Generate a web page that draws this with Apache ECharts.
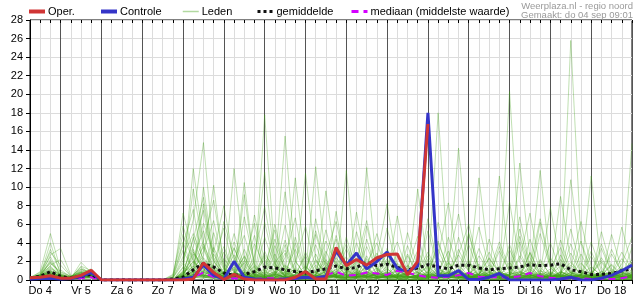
<!DOCTYPE html>
<html><head><meta charset="utf-8">
<script src="https://cdn.jsdelivr.net/npm/echarts@6/dist/echarts.min.js"></script>
<style>html,body{margin:0;padding:0;background:#fff}#c{width:635px;height:300px}</style>
</head><body><div id="c"></div>
<script>
// time axis: hours since Do 4 00:00, 6-hourly steps starting 06:00
const startHour = 6;
const stepHours = 6;
const dayLabels = ['Do 4','Vr 5','Za 6','Zo 7','Ma 8','Di 9','Wo 10','Do 11','Vr 12','Za 13','Zo 14','Ma 15','Di 16','Wo 17','Do 18'];
const yTicks = {min: 0, max: 28, interval: 2};
const sourceText = 'Weerplaza.nl - regio noord';
const madeText = 'Gemaakt: do 04 sep 09:01';

const oper = [0.25,0.3,0.45, 0.2,0.2,0.5,1.05, 0,0,0,0, 0,0,0,0, 0,0.1,1.85,0.8, 0.05,0.6,0.1,0, 0,0,0,0.3, 0.9,0.1,0.1,3.5, 1.55,2.2,1.6,2.4, 2.75,2.8,0.55,2.0, 16.8];
const controle = [0.1,0.15,0.2, 0.1,0.15,0.4,0.8, 0,0,0,0, 0,0,0,0, 0.1,0.3,1.6,0.5, 0.1,2.0,0.3,0.1, 0.05,0,0.1,0.2, 0.3,0.2,0.4,3.1, 1.6,2.9,1.2,2.0, 3.0,1.25,0.9,1.5, 18.0,0.45,0.45,1.0, 0.05,0.05,0.3,0.7, 0,0,0,0, 0,0.1,0.3,0, 0,0.2,0.5,1.0, 1.6];
const gemiddelde = [0.2,0.4,0.9, 0.4,0.2,0.4,0.6, 0,0,0.02,0, 0,0,0,0.1, 0.3,1.1,1.8,1.4, 0.75,0.5,0.6,0.9, 1.4,1.3,1.1,0.9, 0.75,1.0,1.2,1.5, 1.2,1.35,1.9,1.55, 1.7,1.35,1.1,1.3, 1.65,1.4,1.2,1.6, 1.6,1.3,1.1,1.2, 1.3,1.4,1.65,1.55, 1.6,1.75,1.1,0.9, 0.6,0.6,0.7,1.0, 1.2];
const mediaan = [0.1,0.1,0.2, 0.1,0.1,0.2,0.3, 0,0,0,0, 0,0,0,0, 0.1,0.3,0.8,0.3, 0.1,0.2,0.1,0.1, 0.2,0.2,0.1,0.1, 0.3,0.2,0.5,0.9, 0.45,0.55,0.8,0.7, 0.55,1.0,0.8,0.5, 0.3,0.25,0.35,0.5, 0.75,0.35,0.3,0.3, 0.25,0.4,0.75,0.4, 0.25,0.2,0.1,0.2, 0.1,0.1,0.1,0.2, 0.4];

const leden = [
[0.2,0.9,5.0, 1.1,0.3,0.6,0.4, 0,0,0,0, 0,0,0,0.2, 2.1,6.5,14.8,3.2, 0.4,1.2,0.6,0.2, 0,0.3,1.5,0.8, 0.2,0,0.6,2.4, 1.0,0.3,0,0.1, 0.4,1.8,0.9,0.2, 0,0.2,0.5,0.3, 0.1,0,0,0.6, 1.4,0.3,0,0.2, 0.5,2.2,0.8,0, 0,0.3,1.1,0.4, 0.2],
[0.1,0.5,4.0, 0.6,0.2,1.9,0.8, 0,0.1,0,0, 0,0,0,0, 0.5,1.2,2.6,10.2, 1.4,0.2,0,0.5, 17.8,2.3,0.4,0, 0,0.2,1.3,0.5, 0.3,0.9,3.6,1.1, 0.2,0,0.4,1.9, 0.6,0.1,0,0, 0.3,1.2,0.5,0.2, 0,0,0.8,0.3, 0.1,0.6,0.2,0, 0,0,0.4,1.3, 0.5],
[0.3,0.4,3.3, 0.8,0.4,0.9,0.6, 0,0,0,0, 0,0,0,0, 7.2,3.0,1.1,0.4, 0,0.8,2.5,0.6, 0.2,0,0,0.3, 1.1,3.8,0.9,0.2, 0,0.4,0.7,2.2, 0.6,0.2,0.1,0, 0.4,18.0,1.5,0.3, 0.1,0,0.2,0.9, 0.4,0.1,0,0, 0.3,0.2,1.6,0.7, 0.2,0,0,0.1, 0],
[0.2,0.3,2.7, 3.4,0.5,0.4,0.3, 0,0,0,0, 0,0,0,0.4, 4.1,0.8,0.3,1.7, 5.6,1.0,0.2,0, 0,0.5,0.9,0.4, 0.1,0.6,1.9,0.3, 0,0.2,0.5,1.0, 2.8,0.6,0.1,0, 0.2,0.5,0.8,14.2, 2.0,0.3,0,0.1, 0.5,1.3,0.6,0.2, 0,0,0.3,0.9, 0.4,0.1,0,0, 0.3],
[0.1,0.2,2.2, 0.5,0.2,1.5,1.0, 0,0,0,0, 0,0,0,0, 1.3,9.8,3.4,0.6, 0.2,0,0.1,0.8, 2.7,1.4,0.3,0, 0,0.9,4.2,1.6, 0.5,0.1,0,0.4, 0.8,0.3,2.6,0.5, 0.1,0,0.3,1.1, 0.4,0.2,0,0, 20.3,3.1,0.6,0.2, 0,0.4,0.8,0.3, 0.1,0.5,1.7,0.6, 0.2],
[0.2,0.6,1.5, 0.4,0.1,0.7,0.9, 0,0,0,0, 0,0,0,0, 0.8,2.4,5.3,1.1, 0.3,12.0,2.2,0.4, 0.2,0,0,0.6, 0.3,0.1,0.5,0.9, 1.8,0.6,0.2,0, 0,0.3,0.8,0.4, 0.6,1.4,0.5,0.2, 0,0.6,2.3,0.8, 0.2,0.1,0.4,1.0, 0.6,0.2,25.8,4.0, 0.5,0,0,0.2, 0.4],
[0.1,0.3,1.0, 0.2,0.3,0.5,0.7, 0,0,0,0, 0,0,0,0, 0.2,0.7,1.6,0.5, 3.0,0.9,0.3,0.1, 0,0.8,15.5,2.1, 0.4,0,0,0.3, 0.9,2.0,0.6,0.1, 0,0,0.5,9.8, 1.2,0.3,0.1,0, 0.2,0.8,0.4,0.1, 0,0.5,1.2,0.4, 0.1,0,0.2,0.6, 1.4,0.5,0.2,0, 0.1],
[0.3,0.5,0.8, 0.3,0.2,0.4,0.5, 0,0,0,0, 0,0,0,0.1, 0.4,0.3,0.9,2.8, 0.7,0.2,0,0.4, 1.1,0.3,0.6,11.0, 1.5,0.2,0,0.5, 0.2,0.7,1.4,0.3, 0.5,0.2,0,0.3, 0.8,2.4,0.6,0.2, 0.4,11.0,1.8,0.3, 0,0.2,0.6,0.2, 0.8,0.3,0.1,0, 0.2,0.9,0.4,0.2, 0],
[0.2,0.4,0.6, 0.2,0.1,0.3,0.4, 0,0,0,0, 0,0,0,0, 0,0.2,0.5,0.3, 0.1,0.6,0.2,0, 0.3,0.1,0,0.2, 0.6,12.2,1.9,0.4, 0.1,0,0.3,0.8, 0.3,0.1,0,0, 0.2,0.6,1.1,0.4, 0.7,0.2,0.1,0.3, 0.6,12.6,2.4,0.5, 0.2,0,0.3,0.5, 0.2,0,0.1,0.4, 0.8],
[0.1,0.3,0.5, 0.1,0.2,0.3,0.4, 0,0,0,0, 0,0,0,0, 0.3,1.0,0.4,0.2, 0,0.3,0.9,0.3, 0.1,0,0.5,1.2, 0.3,0.1,0,0.7, 11.8,1.0,0.4,0.2, 0,0.6,1.5,0.5, 0.3,0.1,0,0.2, 0.9,0.3,0.6,0.2, 0.4,0.1,0,0.1, 0.3,0.7,1.9,0.6, 11.2,1.3,0.3,0.1, 0.6],
[0.2,0.2,0.4, 0.2,0.1,0.2,0.3, 0,0,0,0, 0,0,0,0, 0.6,4.6,1.2,0.3, 0.2,0.5,10.5,1.4, 0.3,0.1,0,0, 0.2,0.4,1.0,0.3, 0,0.2,0.4,0.6, 0.4,1.3,0.3,0.1, 0,0.3,0.7,0.3, 0.2,0.1,0.4,1.5, 0.3,0.2,0.6,0.1, 0,0.2,0.5,0.3, 0.6,2.1,0.5,0.1, 14.7],
[0.1,0.1,0.3, 0.1,0.1,0.2,0.2, 0,0,0,0, 0,0,0,0, 0.1,0.4,0.9,0.5, 0.3,0.1,0.2,0.7, 0.4,0.9,0.2,0.1, 0,0,0.3,0.6, 0.4,0.2,12.1,1.3, 0.2,0,0.2,0.5, 0.9,0.3,0.2,0.6, 0.5,0.2,0,0, 0.3,0.7,0.2,0, 0.2,0.4,0.3,0.1, 0,0.2,0.5,0.3, 0.2],
[0.2,0.4,0.7, 0.3,0.2,0.5,0.4, 0,0,0,0, 0,0,0,0, 0.2,0.6,0.3,0.1, 0.9,3.5,0.8,0.2, 0,0.2,0.4,0.3, 0.8,0.3,0.1,0, 0.2,0.5,0.9,0.4, 0.1,0,0.2,0.6, 1.4,0.5,0.8,0.3, 0.2,0.5,0.1,0, 0.1,0.3,0.9,11.8, 1.6,0.4,0.2,0, 0.3,0.1,0.4,0.2, 0.1],
[0.1,0.2,0.4, 0.1,0.2,0.6,0.5, 0,0,0,0, 0,0,0,0, 0.4,0.2,0.7,1.5, 0.5,0.2,0,0.3, 0.8,4.4,1.0,0.4, 0.2,0,0.6,0.3, 0.1,0.4,0.2,0.8, 0.3,1.0,0.4,0.1, 0,0.2,0.4,0.9, 0.3,0.1,0.5,0.2, 0,0,0.3,0.6, 0.2,0.9,0.4,0.2, 0.5,0.3,0.1,0, 0.3],
[0.2,0.3,0.5, 0.2,0.1,0.4,0.6, 0,0,0,0, 0,0,0,0.3, 3.2,1.0,0.4,0.2, 0.1,0.4,0.8,0.3, 0.2,0.6,0.3,0, 0.4,0.9,0.3,1.2, 0.5,0.2,0.1,0.3, 0.6,0.2,0,0, 0.3,0.8,3.1,0.6, 0.2,0.4,0.8,0.3, 0.2,0.6,0.3,0.1, 0,0.2,0.8,0.4, 0.3,0.1,0.6,0.9, 0.4],
[0.1,0.2,0.3, 0.1,0.1,0.2,0.3, 0,0,0,0, 0,0,0,0, 0.2,0.5,8.2,2.0, 0.6,0.2,0.4,0.2, 0,0.3,0.8,0.5, 0.2,1.6,0.5,0.1, 0,0.3,0.6,0.4, 0.9,0.3,0.1,0, 0.2,0.5,0.2,0.4, 0.6,0.9,0.3,0.1, 0.2,0.1,0.5,0.4, 0.3,0.1,0,0.2, 0.4,0.6,0.2,0.1, 0.2],
[0.2,0.3,0.6, 0.4,0.2,0.3,0.5, 0,0,0,0, 0,0,0,0, 0.5,0.3,0.2,0.4, 0.8,0.3,1.9,6.1, 0.9,0.2,0.1,0, 0.3,0.5,0.2,0.4, 0.7,0.2,0,0.2, 0.4,0.6,0.3,0.2, 0.2,0.3,0.9,0.4, 1.8,0.5,0.2,0.1, 0.3,0.2,0.4,0.7, 0.4,0.2,0.5,0.3, 0.2,0.1,0.3,0.6, 0.5],
[0.1,0.2,0.3, 0.2,0.3,0.4,0.3, 0,0,0,0, 0,0,0,0, 0.1,0.3,0.6,0.3, 0.2,0.1,0.4,0.3, 0.6,0.3,1.2,0.5, 0.2,0.4,0.3,7.4, 1.1,0.4,0.2,0.3, 0.2,0.5,0.3,0.1, 0.3,0.2,0.5,0.8, 0.3,0.1,0.2,0.5, 0.8,0.3,0.1,0.2, 0.5,0.3,0.2,0.6, 0.2,0.4,0.9,0.3, 0.6],
[0.2,0.3,0.4, 0.2,0.2,0.5,0.6, 0,0,0,0, 0,0,0,0, 0.3,1.5,0.4,0.6, 0.2,0.7,0.3,1.0, 0.4,0.1,0.3,0.2, 0.5,0.2,0.8,0.3, 0.3,1.2,0.4,0.2, 0.4,0.3,0.9,0.2, 0.1,0.4,0.3,0.2, 0.5,0.3,0.7,0.4, 0.2,0.5,0.3,0.2, 0.1,0.4,0.6,0.3, 0.8,0.3,0.2,0.4, 0.3],
[0.1,0.2,0.3, 0.1,0.1,0.2,0.2, 0,0,0,0, 0,0,0,0, 0.2,0.4,0.3,0.2, 0.4,0.3,0.2,0.5, 0.3,0.7,0.2,0.4, 0.6,0.2,0.4,0.3, 0.2,0.3,0.5,0.2, 0.3,0.2,0.4,0.3, 0.6,0.2,0.3,0.1, 0.2,0.4,0.3,0.6, 0.3,0.2,0.1,0.3, 0.2,0.5,0.3,0.2, 0.3,0.2,0.4,0.3, 0.2],
[0.2,0.7,2.5, 0.4,0.3,1.2,0.5, 0,0,0,0, 0,0,0,0.5, 5.8,2.2,0.6,0.3, 0.8,1.6,0.7,7.0, 2.0,0.4,0.2,0.6, 1.5,0.4,3.1,0.7, 0.4,5.2,1.3,0.3, 0.2,0.5,1.6,0.8, 0.3,6.2,2.0,0.4, 0.2,0.7,1.6,0.5, 3.8,1.0,0.4,0.2, 0.6,1.5,0.9,0.3, 0.2,0.6,2.8,0.9, 0.3],
[0.3,0.6,1.8, 0.9,0.4,0.8,0.6, 0,0,0,0, 0,0,0,0, 1.0,3.6,7.5,1.6, 0.5,0.3,1.1,4.8, 0.6,0.2,0.9,3.3, 0.7,0.3,0.5,1.1, 2.5,0.6,0.2,0.4, 1.5,4.1,0.9,0.3, 0.5,1.0,0.4,0.2, 4.9,1.1,0.3,0.6, 0.2,0.8,2.0,0.6, 0.3,0.1,0.6,1.8, 0.5,0.2,0.3,0.7, 1.0],
[0.2,0.4,1.2, 0.6,0.3,1.0,0.7, 0,0,0,0, 0,0,0,0, 0.7,1.8,4.2,8.6, 1.8,0.5,0.3,0.6, 1.2,5.4,0.8,0.2, 0.3,0.6,2.2,0.5, 0.3,0.2,1.7,4.0, 0.9,0.2,0.4,0.3, 2.2,0.6,0.2,0.5, 0.3,2.6,0.9,0.2, 0.4,5.5,1.4,0.5, 0.2,0.9,0.4,0.1, 0.6,1.9,0.5,0.3, 0.4],
[0.2,0.5,0.9, 0.5,0.2,0.6,0.8, 0,0,0,0, 0,0,0,0, 0.4,2.8,1.2,0.5, 6.3,2.4,0.6,0.2, 0.3,1.9,3.2,0.9, 0.4,0.2,1.0,4.4, 0.8,0.3,0.6,0.2, 3.4,0.8,0.3,2.0, 0.6,0.3,4.6,1.2, 0.4,0.2,0.5,3.1, 0.9,0.3,0.2,0.4, 1.2,3.5,0.7,0.3, 0.2,0.4,0.6,2.3, 0.8],
[0.1,0.3,0.6, 0.3,0.2,0.4,0.3, 0,0,0,0, 0,0,0,0, 0.3,0.8,2.0,0.7, 0.4,4.1,1.2,0.3, 0.2,0.5,2.4,6.7, 1.0,0.3,0.2,0.5, 1.6,0.4,0.3,0.6, 0.2,2.9,0.7,0.4, 0.2,0.3,1.8,0.5, 0.3,0.6,0.2,0.4, 1.9,0.5,0.2,0.3, 0.8,0.3,0.4,4.2, 1.0,0.3,0.2,0.1, 0.5],
[0.2,0.3,0.5, 0.2,0.2,0.3,0.4, 0,0,0,0, 0,0,0,0, 0.5,0.2,0.8,3.5, 1.1,0.3,0.5,0.2, 0.4,0.8,0.3,1.9, 5.8,1.2,0.4,0.2, 0.3,0.6,0.3,0.8, 2.3,0.5,0.2,0.4, 0.8,3.3,0.7,0.3, 0.2,0.4,1.2,0.6, 0.3,4.1,0.9,0.4, 0.2,0.5,1.0,0.4, 2.6,0.6,0.3,0.2, 0.3],
[0.1,0.2,0.4, 0.2,0.3,0.8,0.4, 0,0,0,0, 0,0,0,0, 1.4,0.6,0.3,0.5, 2.3,0.8,0.4,1.5, 0.6,0.2,3.8,0.9, 0.3,2.0,0.6,0.3, 0.9,0.3,2.6,0.6, 0.3,1.1,0.4,0.2, 0.4,0.2,0.6,2.7, 0.9,0.3,0.4,0.8, 0.5,0.2,3.0,0.7, 0.3,0.6,0.2,0.5, 0.4,3.4,0.8,0.2, 0.6],
[0.2,0.4,0.8, 0.3,0.2,0.6,0.5, 0,0,0,0, 0,0,0,0, 0.6,1.1,0.5,0.3, 0.8,2.7,0.6,0.3, 0.9,0.4,0.2,0.6, 2.6,0.7,1.4,0.4, 0.2,0.8,0.5,1.3, 0.6,0.3,3.7,0.8, 0.4,0.9,0.3,0.6, 2.1,0.5,0.3,0.2, 0.6,0.9,0.4,2.2, 0.5,0.3,0.8,0.4, 0.3,0.5,0.2,0.9, 2.0],
[0.1,0.2,0.3, 0.2,0.1,0.3,0.4, 0,0,0,0, 0,0,0,0, 0.2,0.9,0.4,1.2, 0.3,0.6,2.1,0.5, 0.3,0.2,0.7,0.4, 0.6,0.3,0.2,0.9, 0.4,3.0,0.7,0.3, 0.5,0.2,0.6,1.4, 0.3,0.5,0.2,0.4, 0.6,1.7,0.4,0.3, 0.2,0.4,0.6,0.3, 2.4,0.7,0.3,0.5, 0.2,0.3,0.7,0.4, 0.2],
[0.2,0.3,0.4, 0.2,0.2,0.4,0.3, 0,0,0,0, 0,0,0,0, 0.3,0.5,1.0,0.4, 0.2,0.4,0.3,0.8, 2.2,0.6,0.3,0.2, 0.4,0.8,0.3,0.5, 0.3,0.2,0.4,0.6, 0.8,0.4,0.3,0.5, 1.6,0.4,0.2,0.3, 0.4,0.3,0.6,0.9, 0.4,0.3,0.2,0.5, 0.3,0.8,0.4,0.2, 0.5,0.2,0.4,0.3, 0.4],
[0.2,0.5,1.4, 0.5,0.3,0.7,0.6, 0,0,0,0, 0,0,0,0, 0.8,12.0,4.0,0.9, 0.4,0.7,1.8,0.6, 0.2,0.6,2.9,0.7, 11.5,2.2,0.5,0.3, 0.6,0.3,1.2,0.4, 0.3,0.7,0.5,2.1, 0.7,0.4,0.3,0.8, 0.4,0.2,0.9,0.5, 0.3,0.6,0.4,0.2, 0.6,0.3,10.8,1.9, 0.5,0.3,0.6,0.4, 0.3],
[0.3,0.4,0.7, 0.4,0.2,0.5,0.4, 0,0,0,0, 0,0,0,0, 0.5,0.8,10.0,2.4, 0.6,0.3,9.2,1.3, 0.4,0.2,0.5,0.3, 0.6,0.4,9.6,1.8, 0.4,0.9,0.3,0.2, 0.5,0.3,0.7,0.4, 0.3,0.8,0.4,0.6, 0.2,0.5,0.3,0.4, 0.9,0.4,0.3,0.2, 0.5,0.3,0.2,0.4, 0.6,0.3,0.5,0.8, 0.4],
[0.2,0.3,0.5, 0.3,0.2,0.4,0.5, 0,0,0,0, 0,0,0,0, 0.4,0.3,1.8,0.6, 0.3,0.5,0.4,2.0, 11.6,1.8,0.4,0.3, 0.2,0.5,0.3,0.7, 0.5,0.3,0.8,0.4, 0.4,0.6,0.3,0.2, 0.5,0.3,0.9,0.4, 0.3,0.6,0.4,11.2, 1.4,0.5,0.3,0.4, 0.3,0.5,0.4,0.6, 0.3,0.4,0.3,0.5, 0.4],
[0.1,0.2,0.4, 0.2,0.2,0.3,0.5, 0,0,0,0, 0,0,0,0, 0.3,0.6,0.5,0.4, 0.5,0.3,0.6,0.4, 0.3,0.5,0.4,0.9, 0.4,0.3,0.6,0.3, 0.5,0.4,0.3,0.6, 0.7,0.4,0.2,0.5, 0.3,0.5,0.7,0.3, 0.4,0.3,0.5,0.6, 0.3,0.4,0.5,0.3, 0.4,0.6,0.3,0.5, 0.4,0.3,0.6,0.4, 0.5],
[0.2,0.3,0.6, 0.3,0.2,0.6,0.4, 0,0,0,0, 0,0,0,0, 0.9,0.4,0.6,1.0, 0.4,0.8,0.5,0.3, 0.6,1.3,0.5,0.4, 0.8,0.5,0.4,0.6, 0.3,0.6,0.9,0.5, 1.2,0.4,0.6,0.3, 0.5,0.7,0.4,0.9, 0.6,0.4,0.3,0.7, 0.5,0.8,0.4,0.6, 0.9,0.4,0.5,0.3, 0.6,0.4,0.5,0.7, 0.5],
[0.1,0.2,0.3, 0.1,0.2,0.3,0.3, 0,0,0,0, 0,0,0,0, 0.2,0.3,0.2,0.5, 0.3,0.2,0.3,0.2, 0.2,0.4,0.2,0.3, 0.2,0.3,0.2,0.4, 0.2,0.3,0.2,0.3, 0.3,0.2,0.3,0.2, 0.4,0.2,0.3,0.2, 0.3,0.2,0.4,0.2, 0.2,0.3,0.2,0.4, 0.3,0.2,0.3,0.2, 0.2,0.3,0.2,0.3, 0.2],
[0.2,0.4,0.6, 0.3,0.2,0.5,0.6, 0,0,0,0, 0,0,0,0, 0.7,2.0,0.8,0.5, 1.2,0.4,0.8,0.6, 0.5,0.9,0.6,1.1, 0.7,0.4,0.9,0.6, 1.3,0.5,0.7,0.4, 0.6,1.0,0.5,0.8, 0.4,1.2,0.6,0.5, 0.8,0.5,1.0,0.4, 0.6,0.9,0.5,0.7, 0.5,0.8,0.6,1.0, 0.7,0.5,0.8,0.6, 0.7],
[0.1,0.3,0.5, 0.2,0.3,0.4,0.3, 0,0,0,0, 0,0,0,0, 0.3,0.6,0.4,0.7, 0.5,0.3,0.6,1.0, 0.4,0.6,0.3,0.5, 1.0,0.6,0.3,0.4, 0.6,0.3,0.5,0.7, 0.5,0.4,0.7,0.3, 0.6,0.4,0.5,0.3, 0.5,0.7,0.4,0.6, 0.4,0.6,0.8,0.4, 0.6,0.4,0.3,0.7, 0.5,0.7,0.4,0.6, 0.8],
[0.2,0.5,1.1, 0.3,0.2,0.8,0.7, 0,0,0,0, 0,0,0,0, 0.4,3.0,1.4,0.6, 0.9,5.0,1.5,0.5, 0.3,0.7,1.6,0.8, 0.4,2.8,0.6,0.5, 3.4,0.7,0.4,0.3, 0.6,0.3,0.5,0.9, 3.0,0.8,0.5,0.4, 0.7,1.4,0.5,0.3, 0.5,2.6,0.7,0.4, 0.3,0.7,2.9,0.8, 0.4,0.5,0.3,1.2, 0.5],
[0.3,0.8,3.0, 1.6,0.4,1.2,0.8, 0,0,0,0, 0,0,0,0.2, 2.5,5.0,2.2,0.8, 0.4,3.4,1.0,0.5, 4.6,1.4,0.6,0.3, 0.5,0.3,1.5,3.2, 0.6,0.4,4.4,0.9, 0.3,0.5,0.8,0.4, 0.6,4.0,1.2,0.5, 0.3,0.6,2.4,0.7, 0.4,0.3,0.6,5.0, 1.3,0.4,0.2,0.6, 0.4,3.9,0.9,0.3, 0.5],
[0.1,0.3,1.6, 2.2,0.4,0.5,0.3, 0,0,0,0, 0,0,0,0.3, 3.8,7.6,1.5,0.4, 0.2,2.1,4.8,1.0, 0.3,0.6,5.9,1.4, 0.4,0.2,2.7,6.3, 1.2,0.3,0.5,2.9, 0.7,0.2,5.1,1.3, 0.4,0.3,2.2,7.1, 1.5,0.4,0.2,3.6, 0.8,6.8,1.6,0.3, 0.2,4.3,1.0,0.5, 3.1,0.6,0.2,1.7, 4.6],
[0.2,0.6,2.0, 0.7,0.3,1.4,0.6, 0,0,0,0, 0,0,0,0, 0.6,4.4,8.9,2.1, 0.5,0.3,3.3,0.8, 6.2,1.5,0.4,0.2, 0.6,4.9,1.2,0.3, 0.2,1.9,6.4,1.1, 0.4,0.3,1.2,4.7, 1.0,0.3,0.6,2.8, 6.0,1.3,0.3,0.2, 0.5,2.3,7.2,1.4, 0.3,0.6,3.9,0.9, 0.2,5.2,1.2,0.4, 0.9],
[0.1,0.4,1.3, 0.5,0.2,1.1,0.9, 0,0.1,0,0, 0,0,0,0, 0.3,1.6,6.1,3.0, 8.0,1.9,0.5,0.3, 0.4,3.7,1.0,0.3, 3.0,0.8,0.2,4.8, 1.1,0.4,2.3,0.6, 5.6,1.2,0.4,0.2, 0.3,2.5,8.3,1.6, 0.4,0.2,4.4,1.0, 0.3,0.5,1.4,6.6, 1.7,0.4,0.3,2.8, 0.7,0.3,4.9,1.1, 0.4],
[0.3,0.5,0.9, 0.4,0.2,0.6,1.2, 0,0,0,0, 0,0,0,0.6, 4.9,2.0,0.5,0.2, 0.6,0.3,6.8,1.7, 0.5,2.8,0.7,0.3, 0.2,0.5,5.4,1.3, 3.9,0.8,0.3,0.2, 0.4,6.9,1.4,0.4, 0.2,0.7,0.4,3.3, 0.9,5.7,1.3,0.4, 0.2,0.4,2.9,0.7, 7.8,1.6,0.4,0.2, 0.5,2.4,0.6,0.3, 3.5],
[0.2,0.3,0.7, 0.6,0.3,0.8,0.5, 0,0,0,0, 0,0,0,0, 0.5,0.9,3.1,6.4, 1.3,0.4,0.2,2.6, 7.9,1.8,0.4,0.2, 0.3,2.2,0.6,0.4, 4.6,1.1,0.3,0.5, 2.1,0.6,0.2,0.3, 5.3,1.2,0.4,0.2, 0.3,3.4,0.8,0.5, 8.4,1.9,0.5,0.3, 0.2,0.6,5.5,1.2, 0.3,0.2,0.7,3.0, 1.1],
[0.1,0.2,0.6, 0.3,0.1,0.4,0.5, 0,0,0,0, 0,0,0,0, 0.2,0.6,2.4,0.9, 3.6,0.8,0.3,0.5, 0.9,6.0,1.4,0.3, 0.2,0.4,0.9,3.5, 0.6,7.3,1.5,0.4, 0.2,0.4,2.8,0.6, 0.5,4.2,1.0,0.3, 0.2,0.5,0.8,4.1, 1.2,0.3,0.2,0.6, 4.0,1.0,0.3,0.2, 0.6,0.3,3.3,0.8, 0.3],
[0.2,0.4,1.0, 0.3,0.2,0.5,0.4, 0,0,0,0, 0,0,0,0.2, 1.8,0.7,3.9,1.2, 0.4,0.2,0.6,3.9, 1.4,0.5,4.3,0.9, 0.3,6.6,1.6,0.4, 0.3,0.6,0.4,2.4, 8.2,1.5,0.4,0.3, 0.4,0.2,1.9,0.5, 3.8,0.9,0.3,0.2, 0.7,4.7,1.1,0.4, 0.3,0.4,1.3,6.3, 1.5,0.4,0.3,0.6, 2.2],
[0.1,0.3,0.8, 0.2,0.2,0.7,0.6, 0,0,0,0, 0,0,0,0, 0.4,3.3,0.8,0.4, 0.2,1.4,0.5,0.3, 3.1,0.7,0.3,4.6, 1.0,0.3,0.2,0.6, 2.0,0.5,5.8,1.2, 0.4,0.2,0.6,3.2, 0.8,0.3,0.2,0.9, 5.1,1.2,0.3,0.4, 0.6,0.2,4.4,1.0, 0.3,2.7,0.6,0.2, 0.4,0.9,0.3,5.7, 1.3],
[0.2,0.4,0.9, 0.4,0.3,0.9,0.8, 0,0,0,0, 0,0,0,0, 0.6,2.0,0.7,5.1, 1.2,0.3,0.2,0.4, 2.5,0.8,9.5,2.0, 0.5,0.3,0.6,2.0, 0.5,4.0,0.9,0.3, 0.5,1.7,0.4,0.2, 6.6,1.4,0.3,0.5, 0.4,0.6,3.0,0.7, 0.2,0.5,0.3,2.0, 0.6,9.0,2.1,0.4, 0.3,0.5,1.6,0.4, 0.6],
[0.2,0.5,1.9, 0.5,0.3,0.6,0.4, 0,0,0,0, 0,0,0,0, 0.9,1.4,3.6,0.8, 0.3,0.6,2.6,0.7, 0.3,0.2,0.4,4.0, 0.8,5.3,1.4,0.3, 0.2,0.5,1.4,5.0, 1.2,0.4,0.3,0.5, 2.6,0.6,0.3,4.6, 1.0,0.3,0.6,0.4, 3.3,0.8,0.4,6.2, 1.4,0.3,0.2,0.5, 4.1,1.0,0.3,0.2, 0.4]
];

const hourOf = i => startHour + i * stepHours;
const toPoints = arr => arr.map((v, i) => [hourOf(i), v]);
const endHour = hourOf(gemiddelde.length - 1);

const FONT = '"Liberation Sans", Arial, sans-serif';
const GREEN = 'rgba(65,160,20,0.33)';

const series = [];
leden.forEach(arr => series.push({
  name: 'Leden', type: 'line', data: toPoints(arr), symbol: 'none', silent: true, z: 1,
  lineStyle: {width: 1, color: GREEN}, itemStyle: {color: 'rgba(150,205,120,0.7)'}
}));
series.push({name: 'mediaan (middelste waarde)', type: 'line', data: toPoints(mediaan), symbol: 'none', z: 3,
  lineStyle: {width: 2, color: '#d400ff', type: [7, 5]}, itemStyle: {color: '#d400ff'}});
series.push({name: 'gemiddelde', type: 'line', data: toPoints(gemiddelde), symbol: 'none', z: 4,
  lineStyle: {width: 3, color: '#111', type: [3, 3]}, itemStyle: {color: '#111'}});
series.push({name: 'Controle', type: 'line', data: toPoints(controle), symbol: 'none', z: 5,
  lineStyle: {width: 3, color: '#3535c8'}, itemStyle: {color: '#3535c8'}});
series.push({name: 'Oper.', type: 'line', data: toPoints(oper), symbol: 'none', z: 6,
  lineStyle: {width: 3, color: '#d03535'}, itemStyle: {color: '#d03535'}});

const legendItems = [
  {name: 'Oper.', left: 27, width: 4},
  {name: 'Controle', left: 99, width: 4},
  {name: 'Leden', left: 182, width: 1.5, color: '#b2d9a0'},
  {name: 'gemiddelde', left: 256, width: 3},
  {name: 'mediaan (middelste waarde)', left: 350, width: 3}
];

const chart = echarts.init(document.getElementById('c'), null, {renderer: 'canvas'});
chart.setOption({
  animation: false,
  backgroundColor: '#fff',
  textStyle: {fontFamily: FONT},
  graphic: [
    {type: 'text', right: 2, top: 1, style: {text: sourceText, fill: '#9a9a9a', font: '9.5px ' + FONT}},
    {type: 'text', right: 2, top: 10, style: {text: madeText, fill: '#9a9a9a', font: '9.5px ' + FONT}}
  ],
  legend: legendItems.map(it => ({
    data: [it.name], left: it.left, top: 6, padding: 0,
    itemWidth: 16, itemHeight: 8, itemGap: 0,
    selectedMode: false,
    itemStyle: {opacity: 0},
    lineStyle: it.color ? {width: it.width, color: it.color} : {width: it.width},
    textStyle: {fontSize: 11, color: '#000', fontFamily: FONT, padding: [0, 0, 0, -2]}
  })),
  grid: {left: 30, right: 1, top: 20, bottom: 20, show: true, borderColor: '#000', borderWidth: 1},
  xAxis: [{
    type: 'value', min: startHour, max: endHour, interval: stepHours,
    axisLine: {show: true, lineStyle: {color: '#000'}},
    axisTick: {show: true, length: 4, lineStyle: {color: '#000'}},
    axisLabel: {
      fontSize: 11, color: '#000', margin: 5, fontFamily: FONT,
      formatter: v => (v % 24 === 12) ? dayLabels[(v - 12) / 24] : ''
    },
    splitLine: {show: true, lineStyle: {color: ['#dcdcdc', '#dcdcdc', '#dcdcdc', '#555'], width: 1}}
  }, {
    type: 'value', position: 'top', min: startHour, max: endHour, interval: stepHours,
    axisLine: {show: false}, axisTick: {show: true, inside: true, length: 3, lineStyle: {color: '#000'}},
    axisLabel: {show: false}, splitLine: {show: false}
  }],
  yAxis: {
    type: 'value', min: yTicks.min, max: yTicks.max, interval: yTicks.interval,
    axisLine: {show: true, lineStyle: {color: '#000'}},
    axisTick: {show: true, length: 4, lineStyle: {color: '#000'}},
    axisLabel: {fontSize: 11, color: '#000', margin: 7, fontFamily: FONT},
    splitLine: {show: true, lineStyle: {color: '#dcdcdc', width: 1}}
  },
  series: series
});
</script></body></html>
